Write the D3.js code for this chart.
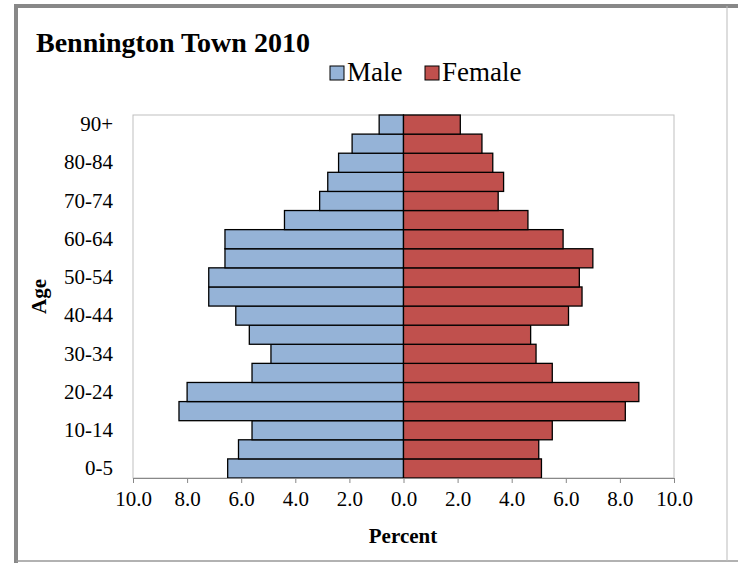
<!DOCTYPE html>
<html><head><meta charset="utf-8">
<script src="https://cdn.jsdelivr.net/npm/d3@7"></script>
<style>body{margin:0;background:#fff} svg text{font-family:"Liberation Serif","DejaVu Serif",serif !important}</style>
</head><body><div id="vis"></div>
<script>
const ages = ["0-5","5-9","10-14","15-19","20-24","25-29","30-34","35-39","40-44","45-49","50-54","55-59","60-64","65-69","70-74","75-79","80-84","85-89","90+"];
const male = [6.5,6.1,5.6,8.3,8.0,5.6,4.9,5.7,6.2,7.2,7.2,6.6,6.6,4.4,3.1,2.8,2.4,1.9,0.9];
const female = [5.1,5.0,5.5,8.2,8.7,5.5,4.9,4.7,6.1,6.6,6.5,7.0,5.9,4.6,3.5,3.7,3.3,2.9,2.1];
const xTicks = [-10,-8,-6,-4,-2,0,2,4,6,8,10];

const W = 738, H = 563;
const plot = { left: 133, right: 674, top: 115, bottom: 478 };

const svg = d3.select("#vis").append("svg").attr("width", W).attr("height", H);

// chart frame
svg.append("path").attr("d", `M16,${H} V6 H${W}`).attr("fill","none").attr("stroke","#888").attr("stroke-width",4);
svg.append("line").attr("x1",16).attr("x2",W).attr("y1",561).attr("y2",561).attr("stroke","#999").attr("stroke-width",1.5);
svg.append("line").attr("x1",727).attr("x2",727).attr("y1",6).attr("y2",561).attr("stroke","#bbb").attr("stroke-width",1);

const x = d3.scaleLinear().domain([-10,10]).range([plot.left,plot.right]);
const y = d3.scaleBand().domain(ages).range([plot.bottom,plot.top]).padding(0);

svg.append("rect").attr("x",plot.left).attr("y",plot.top).attr("width",plot.right-plot.left).attr("height",plot.bottom-plot.top)
  .attr("fill","none").attr("stroke","#bfbfbf");

svg.selectAll(".m").data(ages).enter().append("rect")
  .attr("x",(d,i)=>x(-male[i])).attr("y",d=>y(d)).attr("width",(d,i)=>x(0)-x(-male[i])).attr("height",y.bandwidth())
  .attr("fill","#95b3d7").attr("stroke","#000").attr("stroke-width",1.3);
svg.selectAll(".f").data(ages).enter().append("rect")
  .attr("x",x(0)).attr("y",d=>y(d)).attr("width",(d,i)=>x(female[i])-x(0)).attr("height",y.bandwidth())
  .attr("fill","#c0504d").attr("stroke","#000").attr("stroke-width",1.3);

// x axis
const xa = svg.append("g").attr("transform",`translate(0,${plot.bottom})`)
  .call(d3.axisBottom(x).tickValues(xTicks).tickSize(5).tickPadding(8).tickFormat(d=>Math.abs(d).toFixed(1)));
xa.select(".domain").attr("stroke","#888");
xa.selectAll(".tick line").attr("stroke","#888");
xa.selectAll("text").attr("font-size",21).attr("fill","#000");

// y axis
const ya = svg.append("g").attr("transform",`translate(${plot.left},0)`)
  .call(d3.axisLeft(y).tickValues(ages.filter((d,i)=>i%2===0)).tickSize(0).tickPadding(20));
ya.select(".domain").remove();
ya.selectAll("text").attr("font-size",21).attr("fill","#000");

svg.append("text").attr("x",36).attr("y",52).attr("font-size",28)
  .attr("font-weight","bold").text("Bennington Town 2010");
svg.append("text").attr("x",403).attr("y",543).attr("text-anchor","middle")
  .attr("font-size",21).attr("font-weight","bold").text("Percent");
svg.append("text").attr("transform",`translate(46,${(plot.top+plot.bottom)/2}) rotate(-90)`).attr("text-anchor","middle")
  .attr("font-size",21).attr("font-weight","bold").text("Age");

// legend
const leg = [["Male","#95b3d7",330],["Female","#c0504d",425]];
leg.forEach(([t,c,lx])=>{
  svg.append("rect").attr("x",lx).attr("y",66).attr("width",14).attr("height",14).attr("fill",c).attr("stroke","#000");
  svg.append("text").attr("x",lx+17).attr("y",81).attr("font-size",27).text(t);
});
</script></body></html>
